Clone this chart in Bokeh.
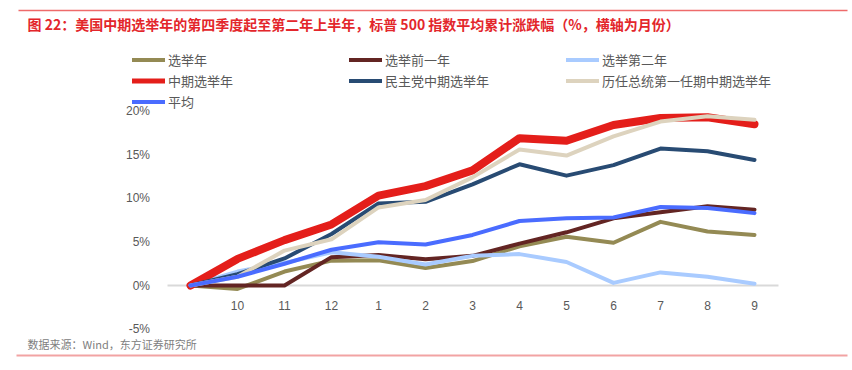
from bokeh.plotting import figure
from bokeh.models import (Range1d, FixedTicker, PrintfTickFormatter, Label, Legend, LegendItem,
                          BoxAnnotation)
from bokeh.embed import file_html
from bokeh.resources import INLINE

# ---- data ----
months = ["", "10", "11", "12", "1", "2", "3", "4", "5", "6", "7", "8", "9"]
election_year = [0, -0.4, 1.6, 2.85, 2.9, 2.0, 2.8, 4.5, 5.6, 4.9, 7.3, 6.2, 5.8]
pre_election_year = [0, 0, 0, 3.25, 3.5, 3.0, 3.4, 4.8, 6.1, 7.7, 8.4, 9.1, 8.7]
post_election_year = [0, 1.6, 2.6, 3.8, 3.3, 2.4, 3.4, 3.6, 2.7, 0.3, 1.5, 1.0, 0.2]
midterm_year = [0, 3.05, 5.2, 7.0, 10.3, 11.4, 13.2, 16.9, 16.6, 18.4, 19.2, 19.3, 18.5]
dem_midterm = [0, 1.3, 3.1, 5.9, 9.4, 9.6, 11.6, 13.9, 12.6, 13.8, 15.7, 15.4, 14.4]
first_term_midterm = [0, 1.0, 4.0, 5.3, 8.95, 9.8, 12.4, 15.6, 14.9, 17.1, 18.8, 19.4, 19.0]
average = [0, 1.0, 2.5, 4.1, 4.95, 4.7, 5.8, 7.4, 7.7, 7.8, 9.0, 8.9, 8.3]
y_ticks = [-5, 0, 5, 10, 15, 20]

series = [
    ("选举年", election_year, "#948A54", 4),
    ("选举前一年", pre_election_year, "#632523", 4),
    ("选举第二年", post_election_year, "#A9CBFF", 4),
    ("中期选举年", midterm_year, "#E41E1A", 8),
    ("民主党中期选举年", dem_midterm, "#284B73", 4),
    ("历任总统第一任期中期选举年", first_term_midterm, "#DDD3BE", 4),
    ("平均", average, "#4A6CFF", 4),
]

FONT = "Noto Sans CJK SC"
W, H = 852, 370
X0, DX = 190.0, 47.0        # pixel position of first point and category step
Y0, DY = 285.0, 8.72        # pixel position of 0% and pixels per 1%

x = list(range(len(months)))

p = figure(width=W, height=H, output_backend="svg", toolbar_location=None,
           x_range=Range1d(-X0 / DX, (W - X0) / DX),
           y_range=Range1d(-(H - Y0) / DY, Y0 / DY),
           min_border=0)
p.outline_line_color = None
p.grid.visible = False

legend_items = []
for name, vals, color, lw in series:
    p.line(x, vals, line_color=color, line_width=lw, line_join="round", line_cap="round")
    # single-point twin renderer (draws nothing in the plot) used only for a thinner legend swatch
    swatch = p.line(x=x[:1], y=vals[:1], line_color=color, line_width=5 if lw > 4 else 4,
                    line_cap="round")
    legend_items.append(LegendItem(label=name, renderers=[swatch]))

# axes
xa = p.xaxis[0]
xa.level = "underlay"
xa.fixed_location = 0
xa.bounds = (-0.5, len(months) - 0.5)
xa.ticker = FixedTicker(ticks=x[1:])
xa.major_label_overrides = {i: m for i, m in enumerate(months) if m}
xa.axis_line_color = "#D9D9D9"
xa.axis_line_width = 2
xa.major_tick_line_color = None
xa.minor_tick_line_color = None
xa.major_label_standoff = 9
xa.major_label_text_font = "Liberation Sans"
xa.major_label_text_font_size = "12px"
xa.major_label_text_color = "#595959"

ya = p.yaxis[0]
ya.fixed_location = -0.5
ya.ticker = FixedTicker(ticks=y_ticks)
ya.formatter = PrintfTickFormatter(format="%d%%")
ya.axis_line_color = None
ya.major_tick_line_color = None
ya.minor_tick_line_color = None
ya.major_label_standoff = 11
ya.major_label_text_font = "Liberation Sans"
ya.major_label_text_font_size = "12px"
ya.major_label_text_color = "#595959"

legend = Legend(items=legend_items, orientation="horizontal", ncols=3,
                location=(132, H - 112), margin=0, padding=0, spacing=0,
                glyph_width=33, glyph_height=21, label_height=21, label_width=181,
                label_standoff=3, border_line_color=None, background_fill_alpha=0,
                label_text_font=FONT, label_text_font_size="13px", label_text_color="#595959")
p.add_layout(legend, "center")

title = Label(x=27, y=H - 23, x_units="screen", y_units="screen",
              text="图 22：美国中期选举年的第四季度起至第二年上半年，标普 500 指数平均累计涨跌幅（%，横轴为月份）",
              text_font=FONT, text_font_size="14px", text_font_style="bold",
              text_color="#E3262B", text_baseline="middle")
p.add_layout(title)

footer = Label(x=27, y=H - 343, x_units="screen", y_units="screen",
               text="数据来源：Wind，东方证券研究所",
               text_font=FONT, text_font_size="11px", text_color="#808080", text_baseline="middle")
p.add_layout(footer)

top_rule = BoxAnnotation(left=18, right=847, top=H - 9.3, bottom=H - 10.8,
                         left_units="screen", right_units="screen", top_units="screen", bottom_units="screen",
                         fill_color="#EE6B6B", fill_alpha=1, line_color=None)
bottom_rule = BoxAnnotation(left=16, right=847, top=H - 354, bottom=H - 356,
                            left_units="screen", right_units="screen", top_units="screen", bottom_units="screen",
                            fill_color="#F2A3A3", fill_alpha=1, line_color=None)
p.add_layout(top_rule)
p.add_layout(bottom_rule)

open("out.html", "w").write(file_html(p, INLINE))
